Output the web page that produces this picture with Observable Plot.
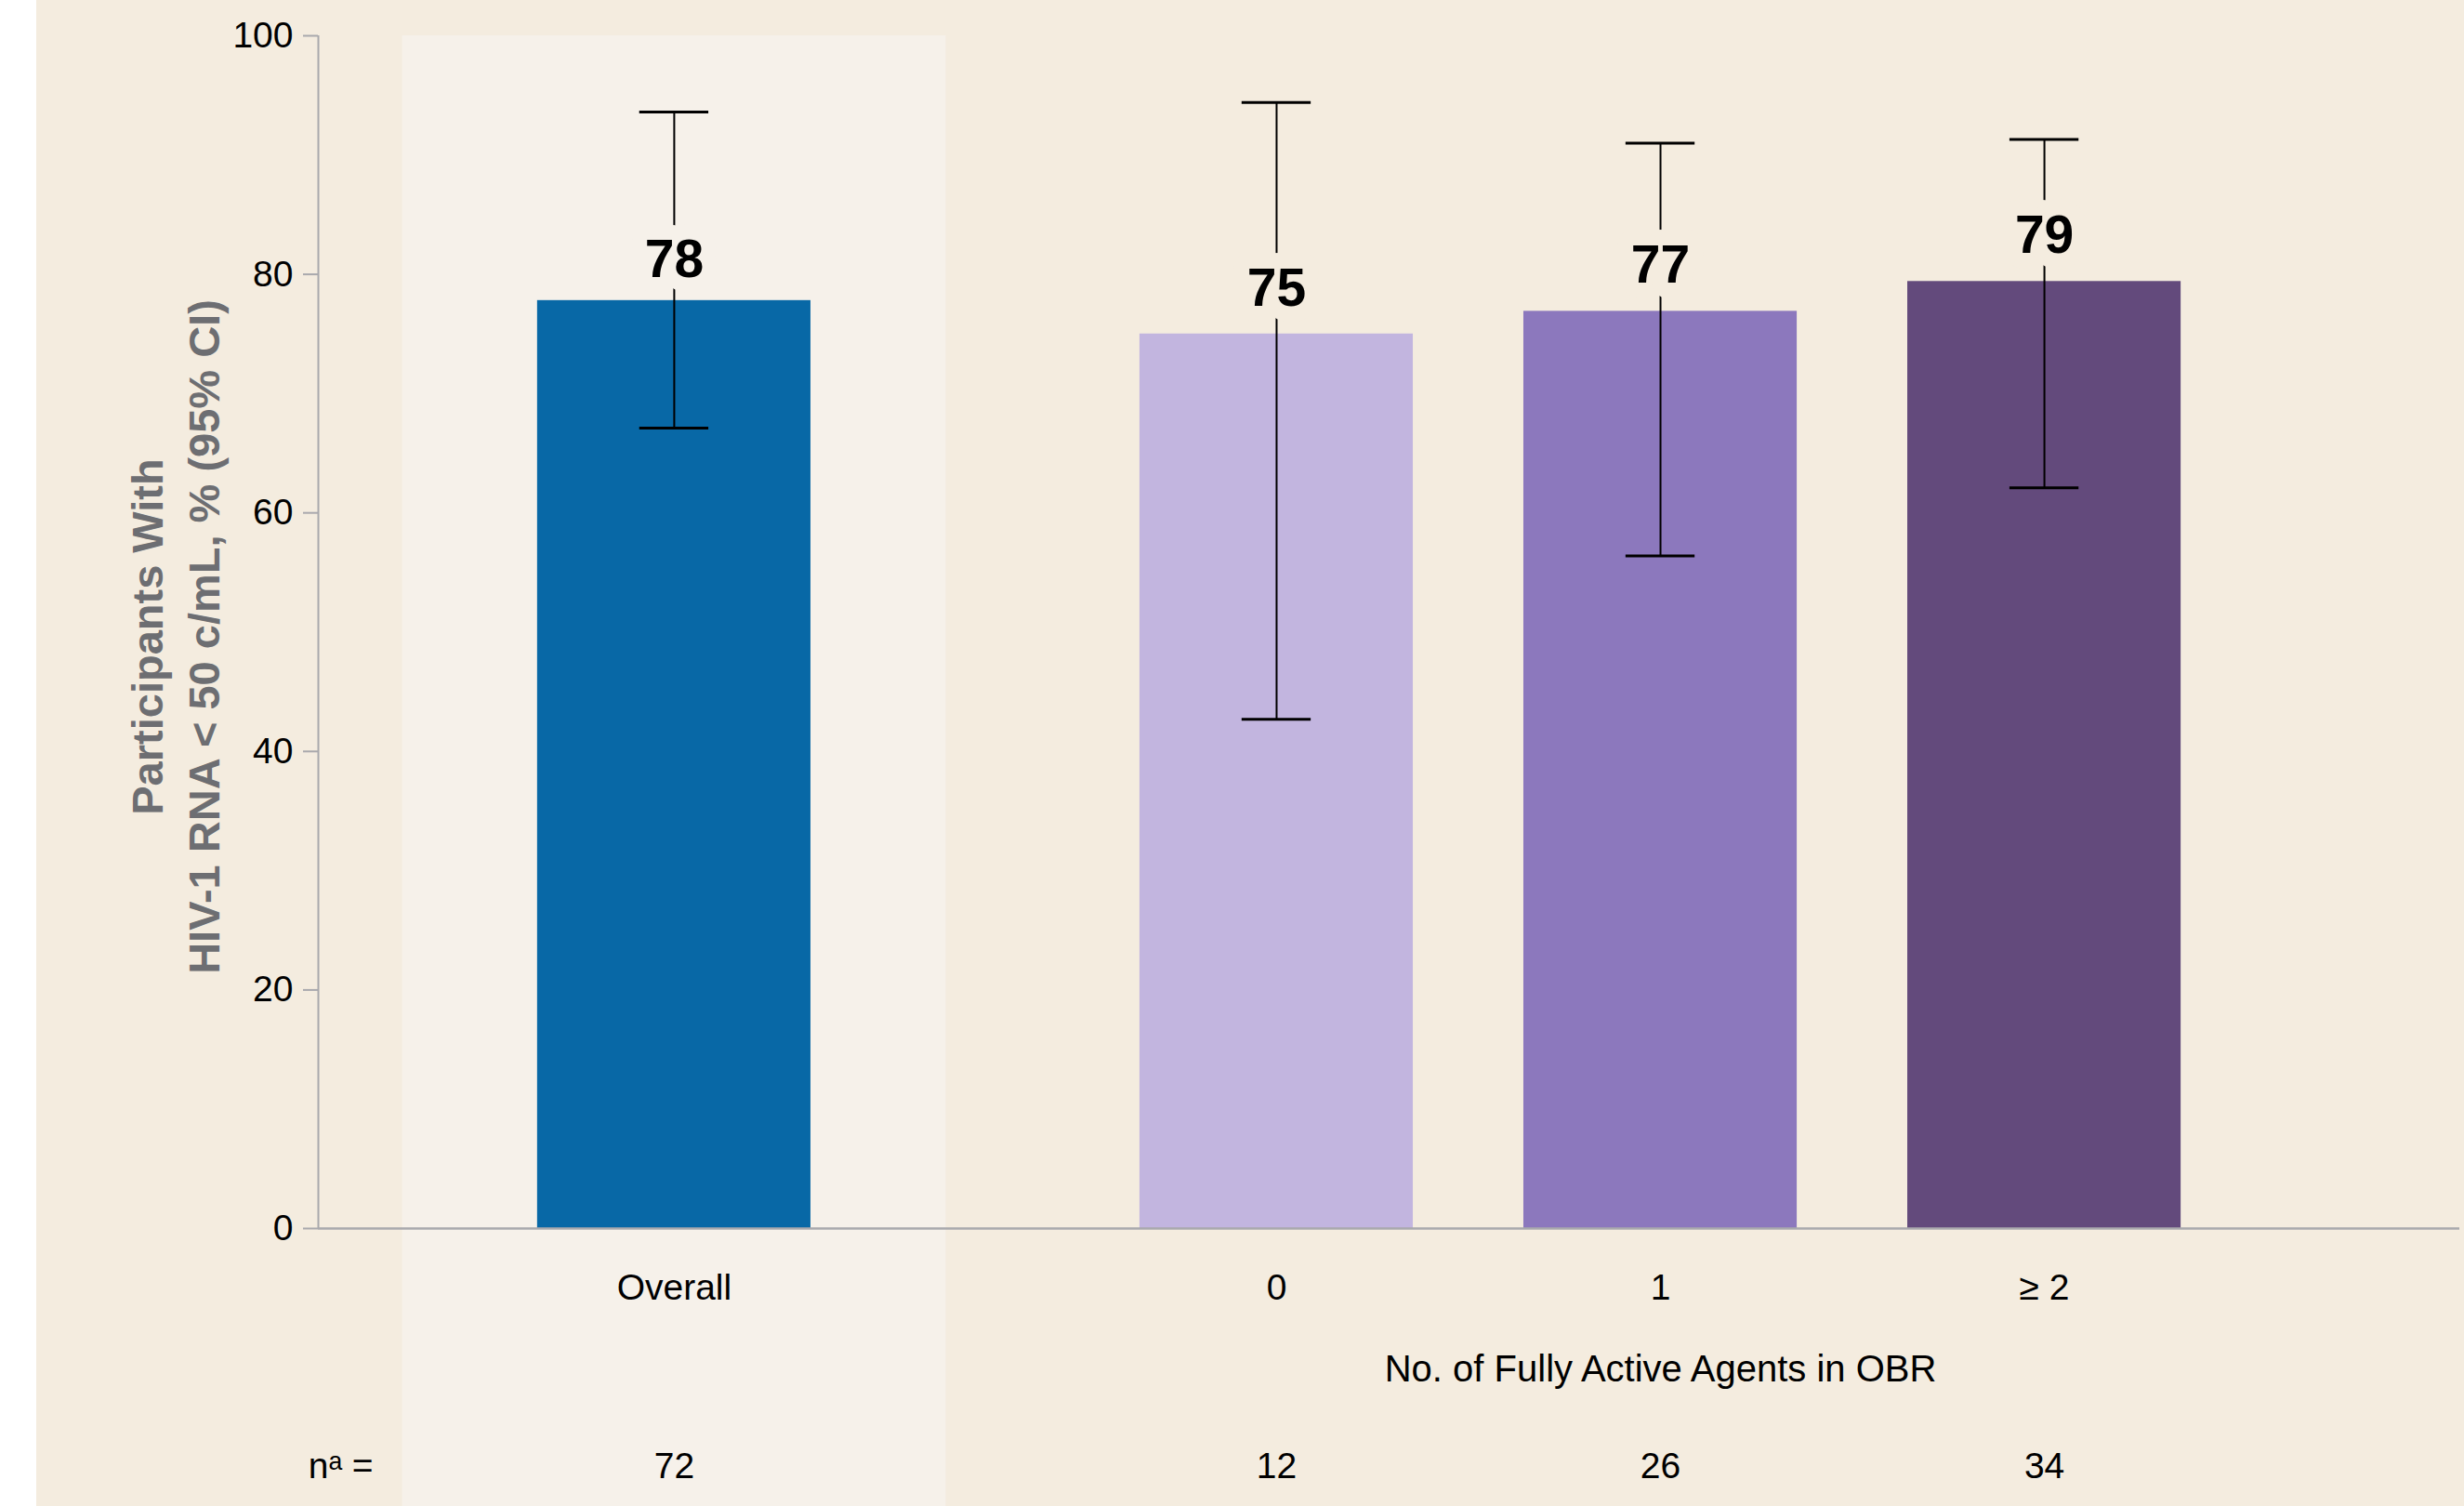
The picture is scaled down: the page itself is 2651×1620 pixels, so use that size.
<!DOCTYPE html>
<html>
<head>
<meta charset="utf-8">
<script src="https://cdn.jsdelivr.net/npm/d3@7"></script>
<script src="https://cdn.jsdelivr.net/npm/@observablehq/plot@0.6"></script>
<style>
  html, body { margin: 0; padding: 0; background: #ffffff; }
  #chart { position: absolute; left: 39px; top: 0; width: 2612px; height: 1620px; }
</style>
</head>
<body>
<div id="chart"></div>
<script>
// ---- Data ----
const categories = ["Overall", "0", "1", "≥ 2"];
const groups = ["Overall", "Agents", "Agents", "Agents"];
const rates = [77.8, 75.0, 76.9, 79.4];
const ciLow = [67.1, 42.7, 56.4, 62.1];
const ciHigh = [93.6, 94.4, 91.0, 91.3];
const valueLabels = ["78", "75", "77", "79"];
const nCounts = ["72", "12", "26", "34"];
const yTicks = [0, 20, 40, 60, 80, 100];
const groupTitle = "No. of Fully Active Agents in OBR";
const yTitle = "Participants With\nHIV-1 RNA < 50 c/mL, % (95% CI)";
const nLabel = "nᵃ =";

// ---- Styles / layout ----
const barColors = ["#0868A6", "#C2B5DF", "#8C78BD", "#634A7C"];
const beige = "#F4ECDF";
const panelColor = "#F6F1EA";
const axisGrey = "#A9A9AD";
const titleGrey = "#6D6E72";
const groupOrder = ["Overall", "Agents"];
const groupGap = 0.569;     // extra slot spacing between groups
const barHalf = 0.356;      // half bar width, in slots
const panelHalf = 0.708;    // half highlight panel width, in slots
const capHalf = 0.09;       // half error-cap width, in slots
const xDomain = [-0.927, 4.651];
const W = 2612, H = 1620, mTop = 38, mBottom = 299, mLeft = 303, mRight = 5;
const yBottom = -mBottom / ((H - mTop - mBottom) / 100);

const rows = categories.map((c, i) => ({
  category: c,
  group: groups[i],
  rate: rates[i],
  lo: ciLow[i],
  hi: ciHigh[i],
  label: valueLabels[i],
  n: nCounts[i],
  slot: i + groupOrder.indexOf(groups[i]) * groupGap
}));
const overallRows = rows.filter(d => d.group === "Overall");
const agentRows = rows.filter(d => d.group === "Agents");
const agentCenter = d3.mean(agentRows, d => d.slot);

const font = "'Liberation Sans', Arial, Helvetica, sans-serif";

const chart = Plot.plot({
  width: W,
  height: H,
  marginTop: mTop,
  marginBottom: mBottom,
  marginLeft: mLeft,
  marginRight: mRight,
  style: { background: beige, fontFamily: font, color: "#000", overflow: "visible" },
  x: { type: "linear", domain: xDomain, axis: null },
  y: { domain: [0, 100], axis: null },
  color: { domain: categories, range: barColors },
  marks: [
    // highlight panel behind Overall
    Plot.rect(overallRows, {
      x1: d => d.slot - panelHalf, x2: d => d.slot + panelHalf,
      y1: 100, y2: yBottom, fill: panelColor
    }),
    // bars
    Plot.rect(rows, {
      x1: d => d.slot - barHalf, x2: d => d.slot + barHalf,
      y1: 0, y2: "rate", fill: "category"
    }),
    // axis lines
    Plot.ruleY([0], { stroke: axisGrey, strokeWidth: 2.5 }),
    Plot.ruleX([xDomain[0]], { y1: 0, y2: 100, stroke: axisGrey, strokeWidth: 2 }),
    Plot.axisY({
      ticks: yTicks, tickSize: 16, tickPadding: 11, fontSize: 39,
      stroke: axisGrey, strokeWidth: 2, fill: "#000", label: null
    }),
    // error bars
    Plot.ruleX(rows, { x: "slot", y1: "lo", y2: "hi", stroke: "#000", strokeWidth: 2 }),
    Plot.ruleY(rows, { y: "lo", x1: d => d.slot - capHalf, x2: d => d.slot + capHalf, stroke: "#000", strokeWidth: 3 }),
    Plot.ruleY(rows, { y: "hi", x1: d => d.slot - capHalf, x2: d => d.slot + capHalf, stroke: "#000", strokeWidth: 3 }),
    // value labels with halo breaking the error line
    Plot.text(overallRows, {
      x: "slot", y: "rate", text: "label", dy: -44, lineAnchor: "middle",
      fontSize: 57, fontWeight: "bold", fill: "#000",
      stroke: panelColor, strokeWidth: 32, paintOrder: "stroke"
    }),
    Plot.text(agentRows, {
      x: "slot", y: "rate", text: "label", dy: -49, lineAnchor: "middle",
      fontSize: 57, fontWeight: "bold", fill: "#000",
      stroke: beige, strokeWidth: 34, paintOrder: "stroke"
    }),
    // category labels
    Plot.text(rows, {
      x: "slot", text: "category", frameAnchor: "bottom", dy: 64,
      fontSize: 39, fill: "#000", lineAnchor: "middle"
    }),
    // group title
    Plot.text([groupTitle], {
      x: agentCenter, text: d => d, frameAnchor: "bottom", dy: 152,
      fontSize: 40, fill: "#000", lineAnchor: "middle"
    }),
    // n row
    Plot.text(rows, {
      x: "slot", text: "n", frameAnchor: "bottom", dy: 256,
      fontSize: 39, fill: "#000", lineAnchor: "middle"
    }),
    Plot.text([nLabel], {
      text: d => d, frameAnchor: "bottom-left", dx: 59, dy: 256,
      textAnchor: "end", fontSize: 39, fill: "#000", lineAnchor: "middle"
    }),
    // y title
    Plot.text([yTitle], {
      text: d => d, frameAnchor: "left", rotate: -90, dx: -157, dy: 5,
      fontSize: 47, fontWeight: "bold", fill: titleGrey,
      lineHeight: 1.3, lineAnchor: "middle", textAnchor: "middle"
    })
  ]
});

document.getElementById("chart").appendChild(chart);
</script>
</body>
</html>
